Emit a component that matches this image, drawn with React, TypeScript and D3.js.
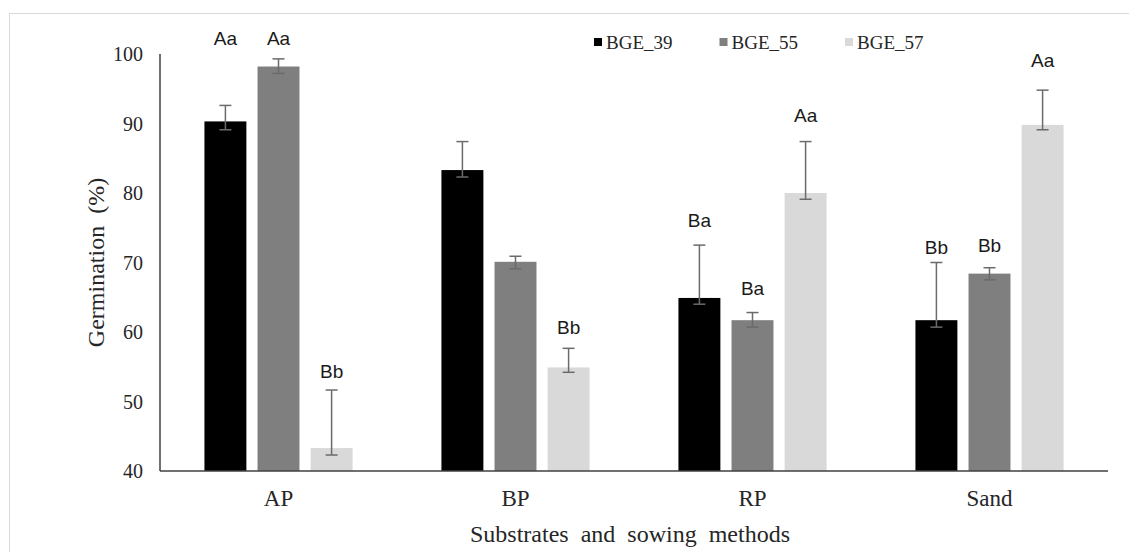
import React from 'react';
import * as d3 from 'd3';

// substrates / sowing methods
const categories = ['AP', 'BP', 'RP', 'Sand'];
const seriesNames = ['BGE_39', 'BGE_55', 'BGE_57'];

// germination (%) per genotype
const bge39 = [90.3, 83.3, 64.9, 61.7];
const bge55 = [98.2, 70.1, 61.7, 68.4];
const bge57 = [43.3, 54.9, 80.0, 89.8];

// error bars (upper and lower length)
const bge39Up = [2.3, 4.1, 7.6, 8.3];
const bge55Up = [1.1, 0.8, 1.1, 0.85];
const bge57Up = [8.35, 2.75, 7.4, 5.0];
const bge39Down = [1.2, 1.0, 0.9, 1.0];
const bge55Down = [1.0, 1.0, 1.0, 0.9];
const bge57Down = [1.0, 0.7, 0.9, 0.7];

// significance letters and the level (in %) where they sit
const bge39Letters = ['Aa', '', 'Ba', 'Bb'];
const bge55Letters = ['Aa', '', 'Ba', 'Bb'];
const bge57Letters = ['Bb', 'Bb', 'Aa', 'Aa'];
const bge39LetterAt = [102.3, 0, 76.0, 72.1];
const bge55LetterAt = [102.3, 0, 66.2, 72.5];
const bge57LetterAt = [54.3, 60.6, 91.2, 99.1];

const yTicks = [40, 50, 60, 70, 80, 90, 100];
const colors = ['#000000', '#7f7f7f', '#d9d9d9'];

const W = 1129;
const H = 552;
const serif = '"Liberation Serif", "Times New Roman", serif';
const sans = '"Liberation Sans", Arial, sans-serif';

export default function App() {
  const values = [bge39, bge55, bge57];
  const ups = [bge39Up, bge55Up, bge57Up];
  const downs = [bge39Down, bge55Down, bge57Down];
  const letters = [bge39Letters, bge55Letters, bge57Letters];
  const letterAt = [bge39LetterAt, bge55LetterAt, bge57LetterAt];

  const left = 160, right = 1108, top = 54, bottom = 471;

  const x0 = d3.scaleBand()
    .domain(categories)
    .range([left, right])
    .paddingInner(0.375)
    .paddingOuter(0.1875);

  const x1 = d3.scaleBand()
    .domain(seriesNames)
    .range([0, x0.bandwidth()])
    .paddingInner(0.21);

  const y = d3.scaleLinear().domain([40, 100]).range([bottom, top]);

  const bars = categories.flatMap((cat, ci) =>
    seriesNames.map((s, si) => ({
      cat, s, si,
      v: values[si][ci],
      up: ups[si][ci],
      down: downs[si][ci],
      letter: letters[si][ci],
      at: letterAt[si][ci],
    }))
  );

  return (
    <>
      <style>{`body{margin:0}`}</style>
      <svg width={W} height={H} style={{ display: 'block', background: '#fff' }}>
        {/* outer frame */}
        <line x1={9} y1={13.5} x2={W} y2={13.5} stroke="#d9d9d9" />
        <line x1={9.5} y1={13} x2={9.5} y2={H} stroke="#d9d9d9" />

        {/* bars */}
        {bars.map((d, i) => {
          const bx = x0(d.cat)! + x1(d.s)!;
          return (
            <rect key={'b' + i} x={bx} y={y(d.v)} width={x1.bandwidth()}
              height={y(40) - y(d.v)} fill={colors[d.si]} />
          );
        })}

        {/* error bars */}
        {bars.map((d, i) => {
          const cx = x0(d.cat)! + x1(d.s)! + x1.bandwidth() / 2;
          const y1 = y(d.v + d.up);
          const y2 = y(d.v - d.down);
          return (
            <g key={'e' + i} stroke="#6b6b6b" strokeWidth={1.5}>
              <line x1={cx} x2={cx} y1={y1} y2={y2} />
              <line x1={cx - 6} x2={cx + 6} y1={y1} y2={y1} />
              <line x1={cx - 6} x2={cx + 6} y1={y2} y2={y2} />
            </g>
          );
        })}

        {/* letters */}
        {bars.filter(d => d.letter).map((d, i) => (
          <text key={'l' + i} x={x0(d.cat)! + x1(d.s)! + x1.bandwidth() / 2} y={y(d.at)}
            textAnchor="middle" dominantBaseline="central"
            fontFamily={sans} fontSize={19} fill="#1a1a1a">{d.letter}</text>
        ))}

        {/* axes */}
        <line x1={left} x2={left} y1={top} y2={bottom} stroke="#404040" strokeWidth={1.5} />
        <line x1={left} x2={right} y1={bottom} y2={bottom} stroke="#404040" strokeWidth={1.5} />

        {yTicks.map(t => (
          <text key={t} x={143} y={y(t)} textAnchor="end" dominantBaseline="central"
            fontFamily={serif} fontSize={20} fill="#262626">{t}</text>
        ))}

        {categories.map(c => (
          <text key={c} x={x0(c)! + x0.bandwidth() / 2} y={498} textAnchor="middle"
            dominantBaseline="central" fontFamily={serif} fontSize={23} fill="#262626">{c}</text>
        ))}

        <text x={630} y={534} textAnchor="middle" dominantBaseline="central"
          fontFamily={serif} fontSize={24} fill="#262626" style={{ whiteSpace: 'pre' }}>
          {'Substrates  and  sowing  methods'}
        </text>

        <text transform={`translate(96,${(top + bottom) / 2}) rotate(-90)`} textAnchor="middle"
          dominantBaseline="central" fontFamily={serif} fontSize={24} fill="#262626"
          style={{ whiteSpace: 'pre' }}>
          {'Germination  (%)'}
        </text>

        {/* legend */}
        {seriesNames.map((s, i) => (
          <g key={s} transform={`translate(${594 + i * 125.5},42)`}>
            <rect x={0} y={-4} width={8} height={8} fill={colors[i]} />
            <text x={12} y={0} dominantBaseline="central" fontFamily={serif}
              fontSize={19} fill="#262626">{s}</text>
          </g>
        ))}
      </svg>
    </>
  );
}
